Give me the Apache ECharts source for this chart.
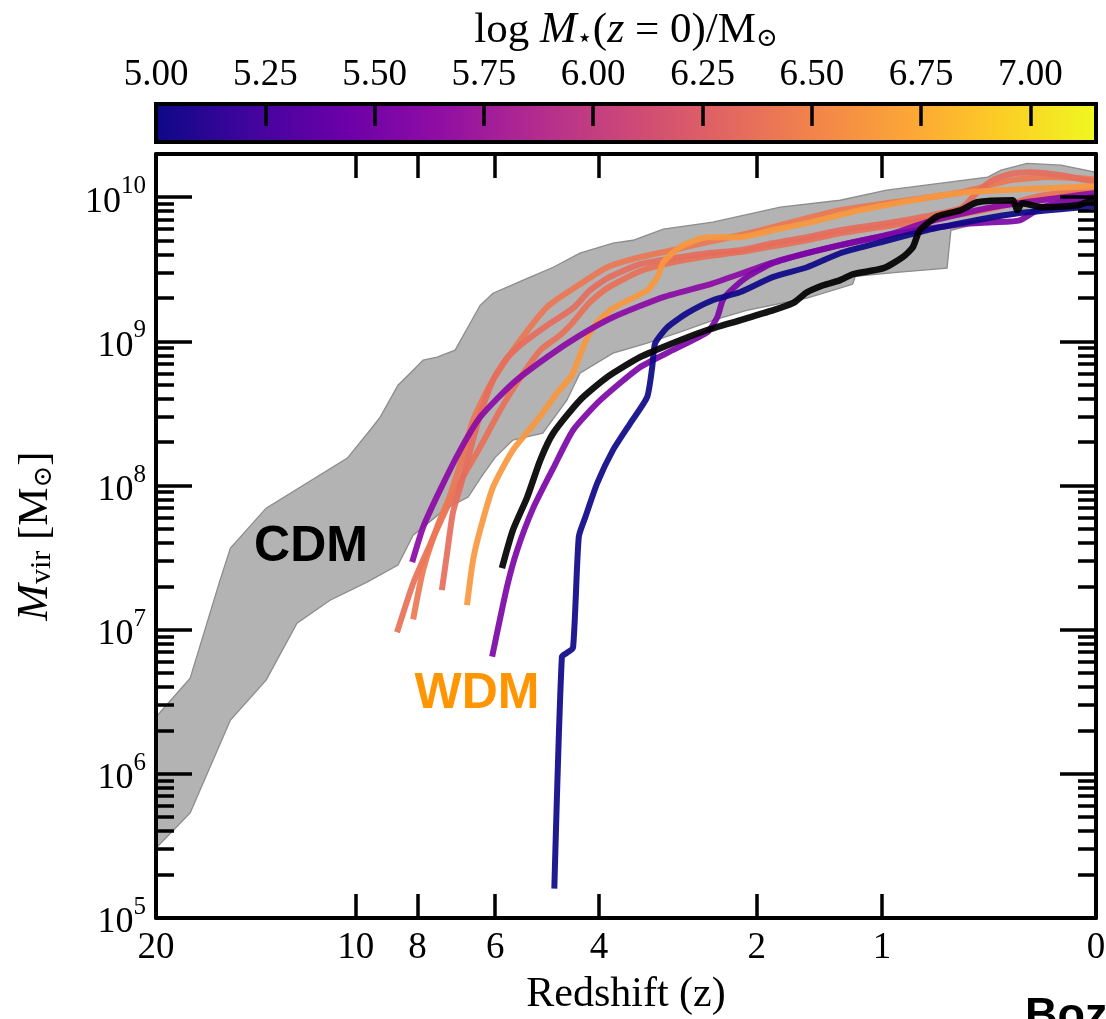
<!DOCTYPE html>
<html>
<head>
<meta charset="utf-8">
<script src="https://cdn.jsdelivr.net/npm/echarts@6/dist/echarts.min.js"></script>
<style>
  html, body { margin: 0; padding: 0; background: #ffffff; }
  #chart { width: 1106px; height: 1019px; }
</style>
</head>
<body>
<div id="chart"></div>
<script>
// ---- axes ---------------------------------------------------------------
const zTicks = [20, 10, 8, 6, 4, 2, 1, 0];          // redshift tick labels
const massDecades = [5, 6, 7, 8, 9, 10];             // log10 Mvir of labelled ticks
const massTop = 10.30;                               // log10 Mvir at the top of the panel
const colorbarTicks = [5.00, 5.25, 5.50, 5.75, 6.00, 6.25, 6.50, 6.75, 7.00];
const colorbarRange = [5.0, 7.15];                   // log M*(z=0) range of the colour scale

// ---- CDM envelope (upper and lower edge) ----------------------------------
const cdmUpperZ = [20, 17.8, 16.1, 15.5, 13.7, 10.3, 9.5, 9.16, 8.59, 8.13, 7.84, 7.45, 6.97, 6.35, 6.05, 5.31, 4.80, 4.32, 3.78, 3.48, 3.06, 2.46, 1.78, 1.29, 0.97, 0.42, 0.36, 0.25, 0.12, 0];
const cdmUpperM = [2.48e6, 4.61e6, 2.14e7, 3.68e7, 6.97e7, 1.55e8, 2.42e8, 2.98e8, 4.97e8, 6.31e8, 7.41e8, 7.77e8, 8.69e8, 1.78e9, 2.16e9, 2.74e9, 3.27e9, 4.09e9, 4.80e9, 5.03e9, 6.00e9, 6.71e9, 8.53e9, 9.53e9, 1.12e10, 1.38e10, 1.54e10, 1.72e10, 1.67e10, 1.49e10];
const cdmLowerZ = [20, 17.8, 15.5, 13.7, 12.3, 10.95, 9.6, 8.59, 8.13, 7.23, 6.64, 6.33, 6.00, 5.61, 5.00, 4.55, 4.32, 3.78, 3.28, 2.85, 2.46, 2.10, 1.55, 1.20, 1.18, 0.89, 0.62, 0.60, 0.41, 0.20, 0];
const cdmLowerM = [3.05e5, 5.35e5, 2.36e6, 4.47e6, 1.11e7, 1.60e7, 2.14e7, 2.81e7, 4.53e7, 6.86e7, 8.32e7, 1.14e8, 1.57e8, 2.07e8, 2.31e8, 3.91e8, 6.01e8, 8.28e8, 9.72e8, 1.16e9, 1.40e9, 1.64e9, 2.00e9, 2.49e9, 2.83e9, 3.02e9, 3.22e9, 5.90e9, 6.92e9, 8.13e9, 9.23e9];

// ---- WDM halo growth tracks, coloured by log M*(z=0) ----------------------
const haloAZ = [8.62, 8.13, 7.65, 7.18, 6.84, 6.35, 5.89, 5.46, 5.05, 4.68, 4.44, 4.15, 3.87, 3.38, 2.94, 2.52, 2.17, 1.85, 1.55, 1.29, 0.93, 0.55, 0.36, 0.20, 0];
const haloAM = [9.6e6, 2.10e7, 3.86e7, 7.08e7, 1.06e8, 1.85e8, 3.33e8, 5.56e8, 8.69e8, 1.10e9, 1.36e9, 1.87e9, 2.34e9, 3.07e9, 3.54e9, 3.90e9, 4.16e9, 4.57e9, 5.03e9, 5.62e9, 6.40e9, 7.62e9, 8.66e9, 1.02e10, 1.15e10];
const haloAMstar = 6.38;

const haloBZ = [8.13, 7.84, 7.45, 7.10, 6.77, 6.52, 6.12, 5.61, 4.92, 4.32, 3.87, 3.38, 2.94, 2.52, 2.17, 1.85, 1.55, 1.29, 0.93, 0.55, 0.32, 0.16, 0];
const haloBM = [1.18e7, 2.59e7, 5.15e7, 8.57e7, 1.63e8, 2.84e8, 4.97e8, 8.69e8, 1.73e9, 2.49e9, 3.27e9, 3.84e9, 4.29e9, 4.88e9, 5.45e9, 6.19e9, 7.15e9, 8.13e9, 9.23e9, 1.08e10, 1.31e10, 1.38e10, 1.33e10];
const haloBMstar = 6.42;

const haloCZ = [7.32, 7.18, 7.03, 6.84, 6.59, 6.35, 6.05, 5.74, 5.40, 4.92, 4.44, 4.15, 3.87, 3.38, 2.94, 2.52, 2.17, 1.85, 1.55, 1.29, 0.93, 0.55, 0.47, 0.40, 0.32, 0.24, 0.12, 0];
const haloCM = [1.88e7, 3.40e7, 6.44e7, 9.75e7, 1.76e8, 3.08e8, 5.38e8, 7.64e8, 9.72e8, 1.29e9, 1.70e9, 2.26e9, 2.74e9, 3.43e9, 3.78e9, 4.09e9, 4.29e9, 4.80e9, 5.28e9, 5.90e9, 6.71e9, 8.39e9, 1.08e10, 1.31e10, 1.45e10, 1.49e10, 1.42e10, 1.27e10];
const haloCMstar = 6.35;

const haloDZ = [6.67, 6.52, 6.35, 6.05, 5.61, 5.11, 4.73, 4.46, 4.32, 4.20, 4.03, 3.78, 3.28, 3.14, 3.06, 2.85, 2.52, 2.17, 1.85, 1.55, 1.15, 0.55, 0];
const haloDM = [1.48e7, 3.04e7, 4.91e7, 9.75e7, 1.76e8, 2.84e8, 4.38e8, 5.83e8, 8.02e8, 1.05e9, 1.36e9, 1.70e9, 2.26e9, 2.79e9, 3.54e9, 4.50e9, 5.28e9, 5.28e9, 5.90e9, 6.61e9, 8.13e9, 1.07e10, 1.19e10];
const haloDMstar = 6.63;

const haloEZ = [8.16, 7.84, 7.37, 6.84, 6.35, 5.61, 4.92, 4.32, 3.78, 3.06, 2.46, 1.78, 1.29, 0.93, 0.73, 0.40, 0];
const haloEM = [2.94e7, 5.15e7, 9.29e7, 1.76e8, 2.98e8, 5.13e8, 7.77e8, 1.10e9, 1.47e9, 2.03e9, 2.53e9, 3.66e9, 4.65e9, 5.62e9, 6.71e9, 8.53e9, 1.07e10];
const haloEMstar = 5.62;

const haloFZ = [6.07, 5.74, 5.52, 5.19, 4.80, 4.44, 3.98, 3.38, 2.94, 2.52, 2.41, 2.35, 2.27, 2.10, 1.85, 1.55, 1.29, 0.93, 0.55, 0.40, 0.28, 0.19, 0];
const haloFM = [6.5e6, 1.97e7, 3.56e7, 6.97e7, 1.32e8, 2.42e8, 3.91e8, 6.62e8, 8.69e8, 1.16e9, 1.47e9, 1.93e9, 2.23e9, 2.79e9, 3.48e9, 4.09e9, 4.65e9, 5.54e9, 6.50e9, 6.71e9, 6.92e9, 8.53e9, 1.02e10];
const haloFMstar = 5.53;

const haloGZ = [4.78, 4.64, 4.55, 4.44, 4.34, 4.23, 4.03, 3.78, 3.52, 3.28, 3.21, 3.17, 3.01, 2.76, 2.46, 2.17, 1.85, 1.55, 1.29, 1.03, 0.73, 0.55, 0.40, 0.25, 0];
const haloGM = [1.6e5, 6.5e6, 6.9e6, 7.5e6, 4.4e7, 6.0e7, 1.04e8, 1.76e8, 2.7e8, 4.1e8, 6.6e8, 9.7e8, 1.25e9, 1.57e9, 1.93e9, 2.19e9, 2.79e9, 3.27e9, 4.09e9, 4.80e9, 5.90e9, 6.61e9, 7.27e9, 7.87e9, 8.67e9];
const haloGMstar = 5.0;

// black reference track
const refZ = [5.85, 5.61, 5.31, 5.05, 4.80, 4.32, 3.87, 3.38, 2.94, 2.52, 2.17, 1.85, 1.67, 1.55, 1.42, 1.29, 1.20, 0.99, 0.87, 0.81, 0.77, 0.67, 0.55, 0.47, 0.31, 0.29, 0.27, 0.19, 0.06, 0];
const refM = [2.67e7, 4.91e7, 8.32e7, 1.50e8, 2.31e8, 3.91e8, 5.65e8, 7.77e8, 9.72e8, 1.20e9, 1.40e9, 1.64e9, 1.84e9, 2.19e9, 2.45e9, 2.66e9, 2.92e9, 3.22e9, 3.84e9, 4.50e9, 5.90e9, 7.38e9, 8.13e9, 9.23e9, 9.53e9, 8.13e9, 9.09e9, 8.53e9, 8.81e9, 9.84e9];

// ---- colour map ---------------------------------------------------------
const plasmaAnchors = ['#0d0887', '#41049d', '#6a00a8', '#8f0da4', '#b12a90', '#cc4778',
                       '#e16462', '#f2844b', '#fca636', '#fcce25', '#f0f921'];
function hexToRgb(h) {
  return [parseInt(h.slice(1, 3), 16), parseInt(h.slice(3, 5), 16), parseInt(h.slice(5, 7), 16)];
}
function plasma(t) {
  t = Math.max(0, Math.min(1, t));
  const s = t * (plasmaAnchors.length - 1);
  const i = Math.min(plasmaAnchors.length - 2, Math.floor(s));
  const f = s - i;
  const a = hexToRgb(plasmaAnchors[i]), b = hexToRgb(plasmaAnchors[i + 1]);
  const c = a.map((v, k) => Math.round(v + (b[k] - v) * f));
  return 'rgb(' + c.join(',') + ')';
}
function massColor(logMstar) {
  return plasma((logMstar - colorbarRange[0]) / (colorbarRange[1] - colorbarRange[0]));
}

// ---- helpers ------------------------------------------------------------
const zToX = z => Math.log10(1 + z);
const toPoints = (zs, ms) => zs.map((z, i) => [zToX(z), Math.log10(ms[i])]);

const SERIF = '"Liberation Serif", "DejaVu Serif", serif';
const SYMBOL = '"DejaVu Serif", "DejaVu Sans", serif';
const SANS = '"Liberation Sans", Arial, Helvetica, sans-serif';

const minorTicks = [];
massDecades.forEach(n => {
  for (let k = 2; k <= 9; k++) {
    const v = n + Math.log10(k);
    if (v < massTop) minorTicks.push(v);
  }
});

function track(zs, ms, color, width, z) {
  return {
    type: 'line', xAxisIndex: 0, yAxisIndex: 0,
    data: toPoints(zs, ms),
    showSymbol: false, smooth: 0.2, silent: true, z: z,
    lineStyle: { color: color, width: width, opacity: 0.92, cap: 'butt', join: 'round' }
  };
}

const tickRich = {
  b: { fontFamily: SERIF, fontSize: 36, lineHeight: 46, verticalAlign: 'bottom', color: '#000' },
  s: { fontFamily: SERIF, fontSize: 25, lineHeight: 28, verticalAlign: 'top', color: '#000' }
};

const nameRich = {
  r: { fontFamily: SERIF, fontSize: 43, lineHeight: 54, verticalAlign: 'bottom', color: '#000' },
  i: { fontFamily: SERIF, fontStyle: 'italic', fontSize: 44, lineHeight: 54, verticalAlign: 'bottom', color: '#000' },
  sub: { fontFamily: SERIF, fontSize: 30, lineHeight: 19, verticalAlign: 'bottom', color: '#000' },
  sym: { fontFamily: SYMBOL, fontSize: 26, lineHeight: 21, verticalAlign: 'bottom', color: '#000' }
};

const frame = { show: true, onZero: false, lineStyle: { color: '#000', width: 4 } };
const noLine = { show: false, onZero: false };
const tickStyle = { color: '#000', width: 3.5 };

const option = {
  animation: false,
  backgroundColor: '#ffffff',
  grid: [
    { left: 156, right: 10, top: 154, bottom: 101, outerBoundsMode: 'none' },
    { left: 156, right: 10, top: 104, height: 38, outerBoundsMode: 'none' }
  ],
  xAxis: [
    {
      gridIndex: 0, type: 'value', min: 0, max: zToX(zTicks[0]), inverse: true, position: 'bottom', z: 10,
      axisLine: frame, splitLine: { show: false },
      axisTick: { inside: true, length: 24, lineStyle: tickStyle, customValues: zTicks.map(zToX) },
      axisLabel: {
        customValues: zTicks.map(zToX), margin: 12,
        fontFamily: SERIF, fontSize: 37, color: '#000',
        formatter: v => String(Math.round(Math.pow(10, v) - 1))
      },
      name: 'Redshift (z)', nameLocation: 'middle', nameGap: 56,
      nameTextStyle: { fontFamily: SERIF, fontSize: 42, color: '#000' }
    },
    {
      gridIndex: 0, type: 'value', min: 0, max: zToX(zTicks[0]), inverse: true, position: 'top', z: 10,
      axisLine: frame, splitLine: { show: false },
      axisTick: { inside: true, length: 24, lineStyle: tickStyle, customValues: zTicks.map(zToX) },
      axisLabel: { show: false }
    },
    {
      gridIndex: 1, type: 'value', min: colorbarRange[0], max: colorbarRange[1], position: 'top', z: 10,
      axisLine: noLine, splitLine: { show: false },
      axisTick: { inside: true, length: 22, lineStyle: tickStyle, customValues: colorbarTicks },
      axisLabel: {
        customValues: colorbarTicks, margin: 10,
        fontFamily: SERIF, fontSize: 37, color: '#000',
        formatter: v => v.toFixed(2)
      },
      name: '{r|log }{i|M}{sym|⋆}{r|(}{i|z}{r| = 0)/M}{sym|⊙}',
      nameLocation: 'middle', nameGap: 52,
      nameTextStyle: { rich: nameRich }
    }
  ],
  yAxis: [
    {
      gridIndex: 0, type: 'value', min: 5, max: massTop, position: 'left', z: 10,
      axisLine: frame, splitLine: { show: false },
      axisTick: { inside: true, length: 36, lineStyle: tickStyle, customValues: massDecades },
      axisLabel: {
        customValues: massDecades, margin: 10, rich: tickRich,
        formatter: v => '{b|10}{s|' + Math.round(v) + '}'
      },
      name: '{i|M}{sub|vir}{r| [M}{sym|⊙}{r|]}',
      nameLocation: 'middle', nameGap: 99,
      nameTextStyle: { rich: nameRich }
    },
    {
      gridIndex: 0, type: 'value', min: 5, max: massTop, position: 'left', z: 10,
      axisLine: noLine, splitLine: { show: false },
      axisTick: { inside: true, length: 18, lineStyle: tickStyle, customValues: minorTicks },
      axisLabel: { show: false }
    },
    {
      gridIndex: 0, type: 'value', min: 5, max: massTop, position: 'right', z: 10,
      axisLine: frame, splitLine: { show: false },
      axisTick: { inside: true, length: 36, lineStyle: tickStyle, customValues: massDecades },
      axisLabel: { show: false }
    },
    {
      gridIndex: 0, type: 'value', min: 5, max: massTop, position: 'right', z: 10,
      axisLine: noLine, splitLine: { show: false },
      axisTick: { inside: true, length: 18, lineStyle: tickStyle, customValues: minorTicks },
      axisLabel: { show: false }
    },
    {
      gridIndex: 1, type: 'value', min: 0, max: 1, show: false
    }
  ],
  series: [
    // CDM envelope as a filled polygon
    {
      type: 'custom', xAxisIndex: 0, yAxisIndex: 0, silent: true, z: 1,
      data: [[0, 5]],
      renderItem: (params, api) => {
        const pts = [];
        cdmUpperZ.forEach((z, i) => pts.push(api.coord([zToX(z), Math.log10(cdmUpperM[i])])));
        for (let i = cdmLowerZ.length - 1; i >= 0; i--) {
          pts.push(api.coord([zToX(cdmLowerZ[i]), Math.log10(cdmLowerM[i])]));
        }
        return {
          type: 'polygon', shape: { points: pts },
          style: { fill: '#b3b3b3', stroke: '#8c8c8c', lineWidth: 1.3 }
        };
      }
    },
    track(haloAZ, haloAM, massColor(haloAMstar), 6, 3),
    track(haloBZ, haloBM, massColor(haloBMstar), 6, 3),
    track(haloCZ, haloCM, massColor(haloCMstar), 6, 3),
    track(haloDZ, haloDM, massColor(haloDMstar), 6, 3),
    track(haloEZ, haloEM, massColor(haloEMstar), 6, 4),
    track(haloFZ, haloFM, massColor(haloFMstar), 6, 4),
    track(haloGZ, haloGM, massColor(haloGMstar), 6, 4),
    track(refZ, refM, '#000000', 6.5, 5),
    // colour bar
    {
      type: 'custom', xAxisIndex: 2, yAxisIndex: 4, silent: true, z: 2,
      data: [[colorbarRange[0], colorbarRange[1]]],
      encode: { x: [0, 1] },
      renderItem: (params, api) => {
        const p0 = api.coord([api.value(0), 1]);
        const p1 = api.coord([api.value(1), 0]);
        const stops = plasmaAnchors.map((c, i) => ({ offset: i / (plasmaAnchors.length - 1), color: c }));
        return {
          type: 'rect',
          shape: { x: p0[0], y: p0[1], width: p1[0] - p0[0], height: p1[1] - p0[1] },
          style: { fill: new echarts.graphic.LinearGradient(0, 0, 1, 0, stops), stroke: '#000', lineWidth: 4 }
        };
      }
    }
  ],
  graphic: [
    { type: 'text', x: 311, y: 547, z: 20,
      style: { text: 'CDM', font: 'bold 50px ' + SANS, fill: '#000', align: 'center', verticalAlign: 'middle' } },
    { type: 'text', x: 477, y: 694, z: 20,
      style: { text: 'WDM', font: 'bold 50px ' + SANS, fill: '#ff9500', align: 'center', verticalAlign: 'middle' } },
    { type: 'text', x: 1025, y: 1017, z: 20,
      style: { text: 'Bozek et al.', font: 'bold 45px ' + SANS, fill: '#000', align: 'left', verticalAlign: 'middle' } }
  ]
};

const chart = echarts.init(document.getElementById('chart'), null, { renderer: 'canvas', width: 1106, height: 1019 });
chart.setOption(option);
</script>
</body>
</html>
